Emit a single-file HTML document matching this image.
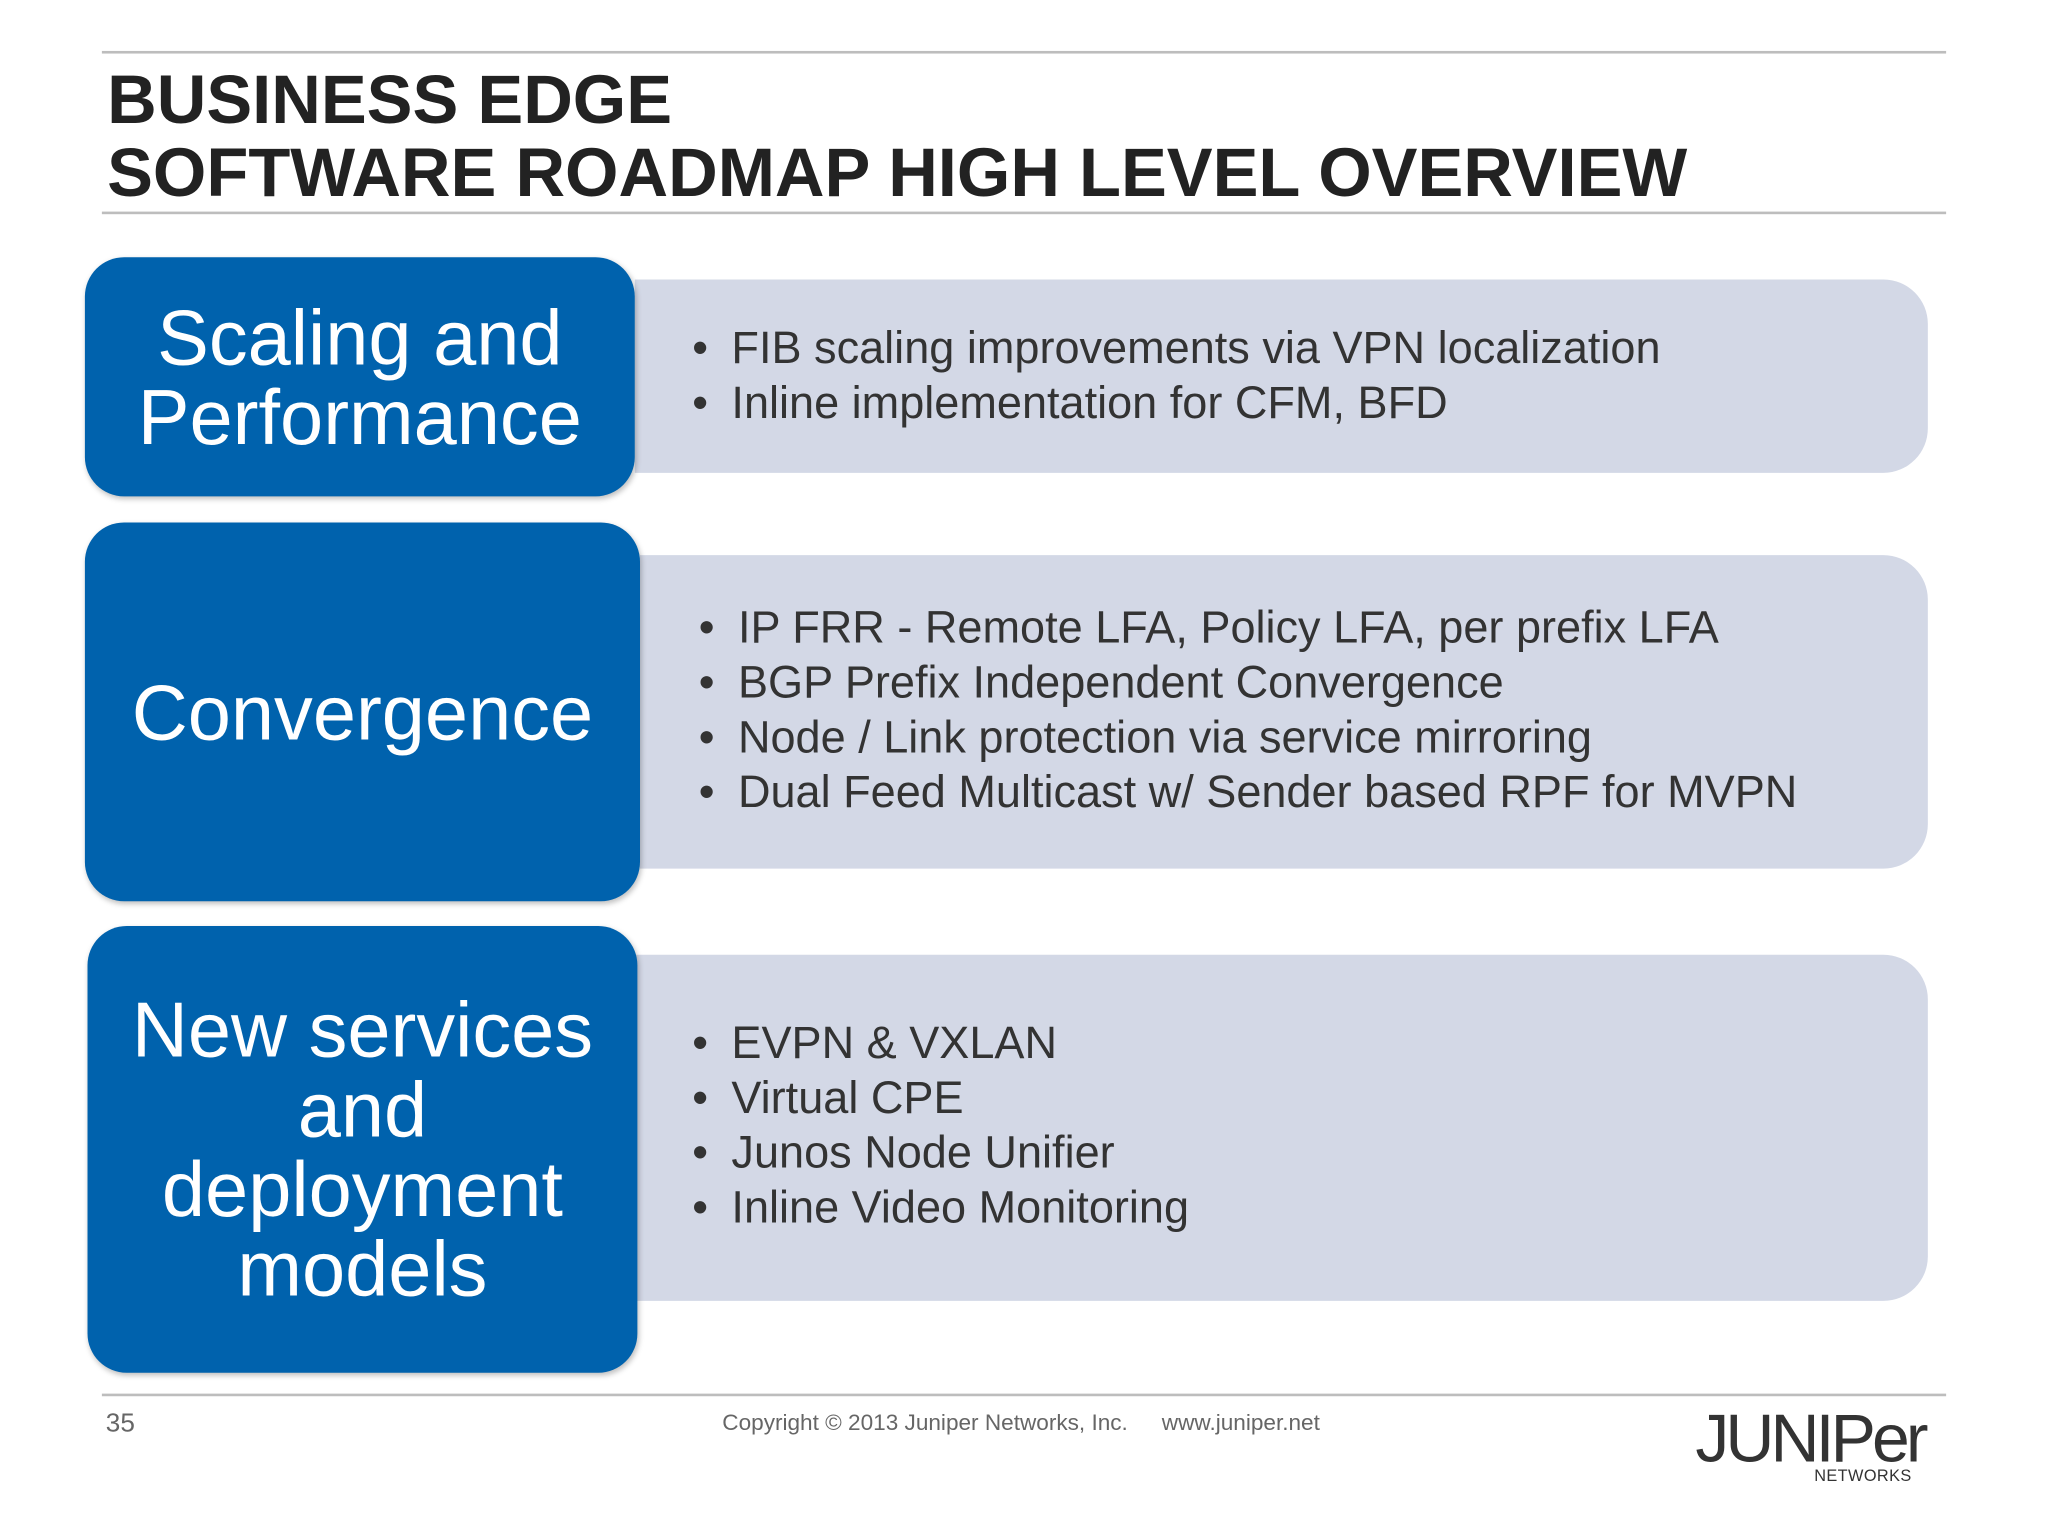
<!DOCTYPE html>
<html><head><meta charset="utf-8">
<style>
html,body{margin:0;padding:0;background:#fff;}
body{width:2048px;height:1536px;overflow:hidden;font-family:"Liberation Sans",Arial,sans-serif;}
#wrap{position:absolute;left:0;top:0;width:1568px;height:1176px;transform:scale(1.30612);transform-origin:0 0;}
.abs{position:absolute;}
.line{position:absolute;left:78px;width:1412px;height:2px;background:#bdbdbd;}
.title{left:82px;font-weight:bold;font-size:52.6px;color:#222;line-height:56px;white-space:nowrap;}
.blue{position:absolute;background:#0062ad;border-radius:30px;color:#fff;text-align:center;display:flex;align-items:center;justify-content:center;font-size:59.4px;line-height:61px;box-shadow:1px 2px 4px rgba(0,0,0,0.25);z-index:2;}
.gray{position:absolute;background:#d3d8e6;border-radius:0 34px 34px 0;}
.bul{position:absolute;font-size:34.5px;color:#333;white-space:nowrap;line-height:42px;}
.bul span{display:inline-block;width:30px;}
</style></head><body>
<div id="wrap">
<div class="line" style="top:39px"></div>
<div class="abs title" style="top:49px">BUSINESS EDGE</div>
<div class="abs title" style="top:105px">SOFTWARE ROADMAP HIGH LEVEL OVERVIEW</div>
<div class="line" style="top:162px"></div>

<div class="gray" style="left:486px;top:214px;width:990px;height:148px"></div>
<div class="blue" style="left:65px;top:197px;width:421px;height:183px">Scaling and<br>Performance</div>
<div class="bul" style="left:530px;top:246px">
<div><span>•</span>FIB scaling improvements via VPN localization</div>
<div><span>•</span>Inline implementation for CFM, BFD</div></div>

<div class="gray" style="left:490px;top:425px;width:986px;height:240px"></div>
<div class="blue" style="left:65px;top:400px;width:425px;height:290px">Convergence</div>
<div class="bul" style="left:535px;top:460px">
<div><span>•</span>IP FRR - Remote LFA, Policy LFA, per prefix LFA</div>
<div><span>•</span>BGP Prefix Independent Convergence</div>
<div><span>•</span>Node / Link protection via service mirroring</div>
<div><span>•</span>Dual Feed Multicast w/ Sender based RPF for MVPN</div></div>

<div class="gray" style="left:486px;top:731px;width:990px;height:265px"></div>
<div class="blue" style="left:67px;top:709px;width:421px;height:342px">New services<br>and<br>deployment<br>models</div>
<div class="bul" style="left:530px;top:778px">
<div><span>•</span>EVPN &amp; VXLAN</div>
<div><span>•</span>Virtual CPE</div>
<div><span>•</span>Junos Node Unifier</div>
<div><span>•</span>Inline Video Monitoring</div></div>

<div class="line" style="top:1067px"></div>
<div class="abs" style="left:81px;top:1079px;font-size:20px;color:#666">35</div>
<div class="abs" style="left:553px;top:1079px;font-size:17.3px;color:#666;white-space:nowrap">Copyright © 2013 Juniper Networks, Inc.<span style="display:inline-block;width:26px"></span>www.juniper.net</div>
<div class="abs" style="left:1298px;top:1072px;font-size:52px;color:#333;letter-spacing:-3px;line-height:60px">JUNIPer</div>
<div class="abs" style="left:1389px;top:1123px;font-size:12.5px;color:#333;letter-spacing:0.3px">NETWORKS</div>
</div>
</body></html>
